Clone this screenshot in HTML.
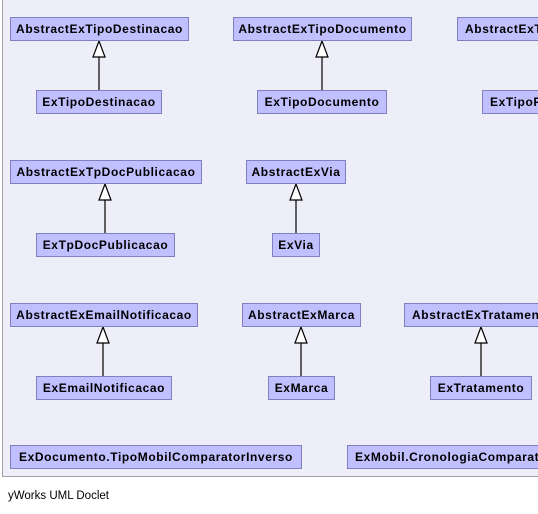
<!DOCTYPE html>
<html><head><meta charset="utf-8"><style>
body{margin:0;width:538px;height:514px;background:#fff;position:relative;overflow:hidden;font-family:"Liberation Sans",Arial,sans-serif}
#panel{position:absolute;left:2px;top:-2px;width:560px;height:479px;background:#eeeef9;border:1px solid #a0a0a8;box-sizing:border-box}
.n{position:absolute;height:24px;box-sizing:border-box;background:#c0c0ff;border:1px solid #8080c0;font-weight:bold;font-size:12px;letter-spacing:0.6px;line-height:22px;text-align:center;white-space:nowrap;overflow:hidden;color:#000}
.o{text-align:left;padding-left:7px}
svg{position:absolute;left:0;top:0}
#f{position:absolute;left:8px;top:490px;font-size:11.5px;color:#000}
</style></head><body>
<div id="panel"></div>
<svg width="538" height="514">
<g stroke="#000" stroke-width="1.2" fill="#fff">
<line x1="99" y1="57" x2="99" y2="90"/><polygon points="99,41 93,57 105,57"/>
<line x1="322" y1="57" x2="322" y2="90"/><polygon points="322,41 316,57 328,57"/>
<line x1="105" y1="200" x2="105" y2="233"/><polygon points="105,184 99,200 111,200"/>
<line x1="296" y1="200" x2="296" y2="233"/><polygon points="296,184 290,200 302,200"/>
<line x1="103" y1="343" x2="103" y2="376"/><polygon points="103,327 97,343 109,343"/>
<line x1="301" y1="343" x2="301" y2="376"/><polygon points="301,327 295,343 307,343"/>
<line x1="481" y1="343" x2="481" y2="376"/><polygon points="481,327 475,343 487,343"/>
</g></svg>
<div class="n" style="left:10px;top:17px;width:179px">AbstractExTipoDestinacao</div>
<div class="n" style="left:36px;top:90px;width:126px">ExTipoDestinacao</div>
<div class="n" style="left:233px;top:17px;width:179px">AbstractExTipoDocumento</div>
<div class="n" style="left:257px;top:90px;width:130px">ExTipoDocumento</div>
<div class="n o" style="left:457px;top:17px;width:100px">AbstractExTipoFormaDocumento</div>
<div class="n o" style="left:482px;top:90px;width:80px">ExTipoFormaDocumento</div>
<div class="n" style="left:10px;top:160px;width:192px">AbstractExTpDocPublicacao</div>
<div class="n" style="left:36px;top:233px;width:139px">ExTpDocPublicacao</div>
<div class="n" style="left:246px;top:160px;width:100px">AbstractExVia</div>
<div class="n" style="left:272px;top:233px;width:48px">ExVia</div>
<div class="n" style="left:10px;top:303px;width:188px">AbstractExEmailNotificacao</div>
<div class="n" style="left:36px;top:376px;width:136px">ExEmailNotificacao</div>
<div class="n" style="left:242px;top:303px;width:119px">AbstractExMarca</div>
<div class="n" style="left:268px;top:376px;width:67px">ExMarca</div>
<div class="n o" style="left:404px;top:303px;width:160px">AbstractExTratamento</div>
<div class="n" style="left:430px;top:376px;width:102px">ExTratamento</div>
<div class="n" style="left:10px;top:445px;width:292px">ExDocumento.TipoMobilComparatorInverso</div>
<div class="n o" style="left:347px;top:445px;width:240px">ExMobil.CronologiaComparator</div>
<div id="f">yWorks UML Doclet</div>
</body></html>
